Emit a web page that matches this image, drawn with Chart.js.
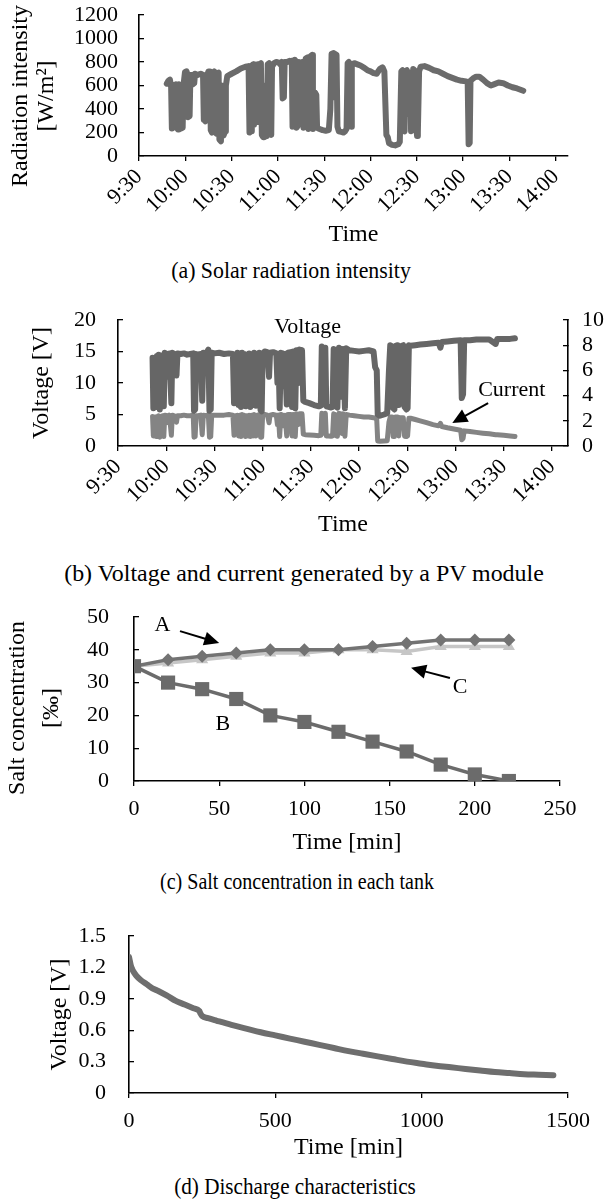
<!DOCTYPE html>
<html><head><meta charset="utf-8">
<script src="https://cdn.jsdelivr.net/npm/chart.js@4.4.1/dist/chart.umd.min.js"></script>
<style>
html,body{margin:0;padding:0;background:#fff;}
body{width:611px;height:1202px;position:relative;overflow:hidden;font-family:'Liberation Serif','Times New Roman',serif;}
canvas{position:absolute;left:0;}
.cap{position:absolute;width:594px;text-align:center;font-size:23px;line-height:26px;color:#000;white-space:nowrap;transform-origin:50% 50%;}
</style></head><body>
<canvas id="ca" width="611" height="252" style="top:0px"></canvas>
<div class="cap" style="top:258px;left:-6px;transform:scaleX(0.95)">(a) Solar radiation intensity</div>
<canvas id="cb" width="611" height="240" style="top:300px"></canvas>
<div class="cap" style="top:561px;left:7px;transform:scaleX(1.04)">(b) Voltage and current generated by a PV module</div>
<canvas id="cc" width="611" height="260" style="top:600px"></canvas>
<div class="cap" style="top:869px;left:0px;transform:scaleX(0.87)">(c) Salt concentration in each tank</div>
<canvas id="cd" width="611" height="260" style="top:910px"></canvas>
<div class="cap" style="top:1174px;left:-2px;transform:scaleX(0.92)">(d) Discharge characteristics</div>
<script>
// ---------- data ----------
const timeTicks = [570,600,630,660,690,720,750,780,810,840]; // minutes of day (9:30 ... 14:00)
const radTicks = [0,200,400,600,800,1000,1200];
const radTime = [588,589,590,590.8,591.3,592.3,592.8,593.8,594.3,595.3,595.8,596.8,597.3,598.3,598.8,599.8,600.8,601.3,601.8,602.8,603.3,604.3,604.8,605.8,606.3,608,610,611.5,612,613,613.5,614.5,615,616,616.5,617.3,617.8,618.8,619.3,620.2,620.7,621.6,622.1,623.1,623.6,624.2,624.8,625.8,626.3,627.2,630,633,636,639,641,641.6,642.6,643.1,644,644.5,645.2,645.7,646.7,647.2,647.8,649,649.6,650.5,651,651.6,652.1,652.9,653.4,654.3,654.9,655.7,656.2,657.5,659,660.5,661.5,662.5,663.1,663.9,664.4,666,667.5,668.5,669,669.5,670.5,671,671.6,672.1,673,673.5,675,676,676.6,677.5,678,679.3,679.8,680.7,681.2,682.2,682.7,683.6,684.1,684.9,685.4,687,689,691,693,694,694.8,696,696.5,697,698,698.6,699.5,701,702.5,703.5,704.5,705.2,706,706.6,707.4,707.9,709.5,711.5,713.5,716,718,720,722,724,726,727.8,729,730.3,731.2,732,734,736,738,739,740,740.8,741.3,742.1,742.6,743.6,744.2,744.8,745.8,746.3,747.2,747.7,748.6,749.3,750.2,750.7,751.5,752.5,755,758,761,764,767,770,773,776,779,782,783,783.6,784.3,784.8,786.5,788.5,790.5,793,795.5,798,800,803,806,809,812,815,819];
const radValue = [615,640,650,600,235,240,600,610,245,225,610,590,235,240,600,715,720,700,330,340,690,690,610,620,700,690,700,690,310,295,690,700,720,720,220,200,700,720,205,190,700,710,140,125,600,580,175,210,600,680,700,720,745,760,765,200,210,770,780,265,300,770,780,290,780,790,180,160,600,560,190,170,780,790,220,180,760,790,800,795,780,800,490,500,800,800,810,800,810,250,260,820,800,240,260,800,790,800,240,250,830,840,230,240,850,860,230,250,540,520,240,230,220,215,220,400,870,875,500,870,860,250,210,205,200,210,230,790,800,260,250,780,790,780,770,750,730,720,705,700,740,755,720,180,160,110,95,90,100,120,720,730,220,210,720,730,360,700,710,210,220,740,730,300,170,200,720,760,765,750,730,720,700,680,665,650,640,635,620,100,110,640,660,675,675,650,620,600,610,625,620,600,585,575,555];

const pvTime = [591.5,592,592.6,593.2,593.7,594.2,594.8,595.3,596,596.6,597.2,597.8,598.5,599.1,600.5,601.3,602,603.2,603.8,605,606.4,607,609,611,613,615,616.8,617.3,618,618.6,620,621.5,622.4,623.1,625,626.2,626.9,627.7,628.3,630,633,636,639,641.5,642.2,642.9,643.6,644.3,645,645.7,646.5,647.2,648,648.6,649.3,650,651,651.6,652.3,653,654,654.7,655.8,656.4,657.2,657.9,658.7,659.4,660,661.3,663,664,664.6,666.5,668.5,669.2,669.8,670.6,671.3,672.5,673.3,673.9,675,675.7,677.5,678.3,679,680.3,681,682.2,682.9,684.5,685.3,686.5,689,692,695,696.2,696.8,697.8,698.4,699,699.6,701,702.5,703.5,704.2,705,705.7,706.5,707.5,708.5,709.3,710,711.2,712,714,717,720,723,726,729,730,731,731.6,733,735.5,737.5,738.6,739.4,740.6,741.2,742,742.6,744,744.7,745.4,747.5,748.3,749.5,750.2,751,752,755,758,762,766,769.5,770.6,771.5,775,779,783.2,783.9,784.7,785.4,789,793,797,801,805,806,810,814,817];
const pvVoltage = [14,6,13.8,10.5,6.2,14.3,6.5,14.5,5.8,14.2,10.8,14.4,6.3,14.8,14.6,11,14.7,6.8,14.8,14.6,11.2,14.7,14.6,14.7,14.5,14.6,14.7,5.6,5.8,14.6,14.5,14.6,7.2,14.8,14.7,15.3,5.6,5.8,14.8,14.7,14.8,14.6,14.7,14.6,6.8,14.5,7.5,14.8,6.5,14.7,6.2,14.8,7,14.6,6.3,14.5,6.6,14.7,6.2,14.5,6.5,14.8,6.4,14.6,7,14.8,5.7,5.5,14.6,15,14.9,11,14.8,14.9,14.7,10,14.6,6,14.8,14.7,9.5,14.6,6.6,14.8,14.9,6.2,15,6,15.2,10,15.3,15.2,7.2,7,6.8,6.5,6.3,6.4,15.8,15.5,7.5,15.6,6.3,6.2,6.1,6.2,15.4,14.8,6.3,6.1,15.6,15.3,7.8,15.4,6,15.5,15.2,15.1,15,15.1,15.2,15,12.5,12,5,4.8,5,5.2,12,16,15.8,6,5.8,15.9,16,6.5,15.8,16,6.2,5.8,6,16,15.9,16,16.1,16.2,16.3,16.4,15.6,16.5,16.6,16.7,16.8,7.6,8.2,16.8,16.8,16.9,16.9,16.9,16.2,17,17,17,17.1];
const pvCurrent = [2.35,0.8,2.3,1.7,0.75,2.35,0.8,2.4,0.7,2.35,1.8,2.4,0.75,2.45,2.4,1.85,2.45,0.85,2.45,2.4,1.9,2.4,2.4,2.45,2.4,2.4,2.45,0.7,0.75,2.4,2.4,2.45,0.9,2.45,2.4,2.5,0.7,0.75,2.45,2.45,2.45,2.45,2.5,2.45,0.85,2.4,1.0,2.45,0.8,2.45,0.75,2.5,0.9,2.45,0.75,2.4,0.8,2.45,0.75,2.45,0.8,2.5,0.8,2.45,0.9,2.5,0.7,0.7,2.45,2.5,2.45,1.85,2.45,2.5,2.45,1.7,2.45,0.75,2.5,2.45,1.6,2.45,0.8,2.5,2.5,0.8,2.5,0.75,2.55,1.7,2.55,2.55,0.95,0.9,0.88,0.85,0.82,0.85,2.6,2.55,1.0,2.6,0.8,0.8,0.78,0.8,2.55,2.5,0.8,0.78,2.6,2.55,1.0,2.55,0.78,2.5,2.45,2.4,2.35,2.3,2.3,2.25,2.2,2.1,0.4,0.38,0.4,0.42,1.9,2.3,2.3,0.75,0.75,2.3,2.3,0.8,2.25,2.25,0.78,0.75,0.8,2.2,2.2,2.1,2.0,1.85,1.7,1.6,1.8,1.55,1.45,1.35,1.25,0.5,0.6,1.2,1.15,1.08,1.02,0.97,0.9,0.9,0.85,0.8,0.75];
const voltTicks = [0,5,10,15,20];
const currTicks = [0,2,4,6,8,10];

const tankTime = [0,20,40,60,80,100,120,140,160,180,200,220];
const tankA = [35,37,38,39,40,40,40,41,42,43,43,43];
const tankB = [35,30,28,25,20,18,15,12,9,5,2,0];
const tankC = [35,36,37,38,39,39,40,40,39.5,41,41,41];
const tankXTicks = [0,50,100,150,200,250];
const tankYTicks = [0,10,20,30,40,50];

const disTime = [0,3,6,10,15,25,40,60,80,100,130,160,190,220,240,244,250,270,300,350,400,450,500,550,600,650,700,750,800,850,900,950,1000,1050,1100,1150,1200,1250,1300,1350,1400,1450];
const disVolt = [1.30,1.26,1.22,1.19,1.16,1.12,1.08,1.04,1.00,0.975,0.93,0.88,0.845,0.81,0.785,0.76,0.735,0.715,0.69,0.65,0.615,0.58,0.55,0.52,0.49,0.46,0.43,0.40,0.375,0.35,0.325,0.30,0.28,0.26,0.245,0.23,0.215,0.20,0.19,0.18,0.175,0.17];
const disXTicks = [0,500,1000,1500];
const disYTicks = [0,0.3,0.6,0.9,1.2,1.5];

// ---------- setup ----------
const FONT = "'Liberation Serif', 'Times New Roman', serif";
Chart.defaults.font.family = FONT;
Chart.defaults.font.size = 22;
Chart.defaults.color = '#000';
Chart.defaults.animation = false;
Chart.defaults.responsive = false;
Chart.defaults.devicePixelRatio = 1;
Chart.defaults.plugins.legend.display = false;
Chart.defaults.plugins.tooltip.enabled = false;

function fmtTime(m){const h=Math.floor(m/60);const mm=Math.round(m-h*60);return h+':'+String(mm).padStart(2,'0');}
function pts(xs, ys){return xs.map((x,i)=>({x:x,y:ys[i]}));}
function setTicks(arr){return s=>{s.ticks=arr.map(v=>({value:v}));};}
function fixW(w){return s=>{s.width=w;s.paddingTop=0;s.paddingBottom=0;s.paddingLeft=0;s.paddingRight=0;};}
function fixH(h){return s=>{s.height=h;s.paddingTop=0;s.paddingBottom=0;s.paddingLeft=0;s.paddingRight=0;};}
const gridY = {drawOnChartArea:false, drawTicks:true, tickLength:-5, color:'#000', lineWidth:1.3};
const gridX = {drawOnChartArea:false, drawTicks:true, tickLength:5, color:'#000', lineWidth:1.3};
const border = {color:'#000', width:1.6};
const TITLE_FONT = {size:24, lineHeight:1.2};

// annotation texts and arrows, placed in data units
const annotate = {
  id:'annotate',
  afterDatasetsDraw(chart, args, opts){
    const ctx = chart.ctx, xs = chart.scales.x;
    (opts.items||[]).forEach(it=>{
      const ys = chart.scales[it.axis||'y'];
      ctx.save();
      if (it.text){
        ctx.font = '22px ' + FONT; ctx.fillStyle = '#000';
        ctx.textAlign = 'center'; ctx.textBaseline = 'middle';
        ctx.fillText(it.text, xs.getPixelForValue(it.x), ys.getPixelForValue(it.y));
      } else {
        const x1 = xs.getPixelForValue(it.x1), y1 = ys.getPixelForValue(it.y1);
        const x2 = xs.getPixelForValue(it.x2), y2 = ys.getPixelForValue(it.y2);
        const a = Math.atan2(y2-y1, x2-x1), L = 15, W = 7;
        ctx.strokeStyle = '#000'; ctx.fillStyle = '#000'; ctx.lineWidth = 2;
        ctx.beginPath(); ctx.moveTo(x1,y1);
        ctx.lineTo(x2 - Math.cos(a)*L*0.8, y2 - Math.sin(a)*L*0.8); ctx.stroke();
        ctx.beginPath(); ctx.moveTo(x2,y2);
        ctx.lineTo(x2 - Math.cos(a)*L - Math.sin(a)*W, y2 - Math.sin(a)*L + Math.cos(a)*W);
        ctx.lineTo(x2 - Math.cos(a)*L + Math.sin(a)*W, y2 - Math.sin(a)*L - Math.cos(a)*W);
        ctx.closePath(); ctx.fill();
      }
      ctx.restore();
    });
  }
};

// two-line vertical axis title, centred a little below the plot-area middle (as in the original)
const yTitle = {
  id:'yTitle',
  afterDraw(chart, args, opts){
    if (!opts.lines) return;
    const ctx = chart.ctx, ca = chart.chartArea;
    const cy = (ca.top + ca.bottom)/2 + (opts.shift||0);
    ctx.save();
    ctx.font = '24px ' + FONT; ctx.fillStyle = '#000';
    ctx.textAlign = 'center'; ctx.textBaseline = 'middle';
    opts.lines.forEach((t,i)=>{
      ctx.save(); ctx.translate(opts.x[i], cy); ctx.rotate(-Math.PI/2); ctx.fillText(t, 0, 0); ctx.restore();
    });
    ctx.restore();
  }
};

const lineDS = (data, color, width, extra) => Object.assign({data:data, borderColor:color, backgroundColor:color, borderWidth:width, borderCapStyle:'round', borderJoinStyle:'round', pointRadius:0, tension:0, fill:false}, extra||{});
const plain = v => String(v);

// ---------- (a) ----------
new Chart(document.getElementById('ca'), {
  type:'line',
  data:{datasets:[lineDS(pts(radTime, radValue), '#6b6b6b', 6)]},
  plugins:[yTitle],
  options:{
    layout:{padding:{top:15,right:43,bottom:0,left:0}},
    plugins:{yTitle:{lines:['Radiation intensity','[W/m²]'], x:[20.5,46.5], shift:10.5}},
    scales:{
      x:{type:'linear', min:570, max:848, afterBuildTicks:setTicks(timeTicks),
         ticks:{minRotation:45, maxRotation:45, padding:3, autoSkip:false, callback:v=>fmtTime(v)},
         grid:gridX, border:border,
         title:{display:true, text:'Time', font:TITLE_FONT, padding:{top:0,bottom:3}},
         afterFit:fixH(96)},
      y:{type:'linear', min:0, max:1200, afterBuildTicks:setTicks(radTicks),
         ticks:{padding:26, autoSkip:false, callback:plain}, grid:gridY, border:border,
         title:{display:false, text:'Radiation intensity [W/m²]'},
         afterFit:fixW(139)}
    }
  }
});

// ---------- (b) ----------
new Chart(document.getElementById('cb'), {
  type:'line',
  data:{datasets:[
    lineDS(pts(pvTime, pvVoltage), '#666666', 6, {yAxisID:'y'}),
    lineDS(pts(pvTime, pvCurrent), '#848484', 5, {yAxisID:'y1'})
  ]},
  plugins:[annotate],
  options:{
    layout:{padding:{top:20,right:0,bottom:0,left:0}},
    plugins:{annotate:{items:[
      {text:'Voltage', x:688, y:18.9},
      {text:'Current', x:815, y:8.9},
      {x1:800.3, y1:6.8, x2:778, y2:3.65}
    ]}},
    scales:{
      x:{type:'linear', min:570, max:850, afterBuildTicks:setTicks(timeTicks),
         ticks:{minRotation:45, maxRotation:45, padding:3, autoSkip:false, callback:v=>fmtTime(v)},
         grid:gridX, border:border,
         title:{display:true, text:'Time', font:TITLE_FONT, padding:{top:0,bottom:1}},
         afterFit:fixH(94)},
      y:{type:'linear', position:'left', min:0, max:20, afterBuildTicks:setTicks(voltTicks),
         ticks:{padding:27, autoSkip:false, callback:plain}, grid:gridY, border:border,
         title:{display:true, text:'Voltage [V]', font:TITLE_FONT, padding:{top:27,bottom:0}},
         afterFit:fixW(118)},
      y1:{type:'linear', position:'right', min:0, max:10, afterBuildTicks:setTicks(currTicks),
         ticks:{padding:19, autoSkip:false, callback:plain}, grid:gridY, border:border,
         afterFit:fixW(43)}
    }
  }
});

// ---------- (c) ----------
new Chart(document.getElementById('cc'), {
  type:'line',
  data:{datasets:[
    lineDS(pts(tankTime, tankB), '#6b6b6b', 3.5, {pointStyle:'rect', pointRadius:10, pointBackgroundColor:'#6b6b6b', pointBorderWidth:0, borderCapStyle:'butt', borderJoinStyle:'miter'}),
    lineDS(pts(tankTime, tankA), '#737373', 3.5, {pointStyle:'rectRot', pointRadius:6.5, pointBackgroundColor:'#737373', pointBorderWidth:0, borderCapStyle:'butt', borderJoinStyle:'miter'}),
    lineDS(pts(tankTime, tankC), '#c6c6c6', 3.5, {pointStyle:'triangle', pointRadius:7, pointBackgroundColor:'#c6c6c6', pointBorderWidth:0, borderCapStyle:'butt', borderJoinStyle:'miter'})
  ]},
  plugins:[annotate, yTitle],
  options:{
    layout:{padding:{top:17,right:51,bottom:0,left:0}},
    plugins:{
      annotate:{items:[
        {text:'A', x:16.7, y:47.6},
        {x1:27, y1:45.7, x2:50, y2:42.1},
        {text:'B', x:52.2, y:17.3},
        {text:'C', x:191.3, y:28.7},
        {x1:185.4, y1:31.4, x2:162.6, y2:34.5}
      ]},
      yTitle:{lines:['Salt concentration','[‰]'], x:[17.5,51.5], shift:9}
    },
    scales:{
      x:{type:'linear', min:0, max:250, afterBuildTicks:setTicks(tankXTicks),
         ticks:{padding:10, maxRotation:0, autoSkip:false, callback:plain}, grid:gridX, border:border,
         title:{display:true, text:'Time [min]', font:TITLE_FONT, padding:{top:0,bottom:3}},
         afterFit:fixH(79)},
      y:{type:'linear', min:0, max:50, afterBuildTicks:setTicks(tankYTicks),
         ticks:{padding:30, autoSkip:false, callback:plain}, grid:gridY, border:border,
         title:{display:false, text:'Salt concentration [‰]'},
         afterFit:fixW(134)}
    }
  }
});

// ---------- (d) ----------
new Chart(document.getElementById('cd'), {
  type:'line',
  data:{datasets:[lineDS(pts(disTime, disVolt), '#6e6e6e', 6, {cubicInterpolationMode:'monotone'})]},
  options:{
    layout:{padding:{top:26,right:43,bottom:0,left:0}},
    scales:{
      x:{type:'linear', min:0, max:1500, afterBuildTicks:setTicks(disXTicks),
         ticks:{padding:10, maxRotation:0, autoSkip:false, callback:plain}, grid:gridX, border:border,
         title:{display:true, text:'Time [min]', font:TITLE_FONT, padding:{top:0,bottom:8}},
         afterFit:fixH(77)},
      y:{type:'linear', min:0, max:1.5, afterBuildTicks:setTicks(disYTicks),
         ticks:{padding:28, autoSkip:false, callback:v=>v===0?'0':v.toFixed(1)}, grid:gridY, border:border,
         title:{display:true, text:'Voltage [V]', font:TITLE_FONT, padding:{top:45,bottom:0}},
         afterFit:fixW(129)}
    }
  }
});
</script>
</body></html>
